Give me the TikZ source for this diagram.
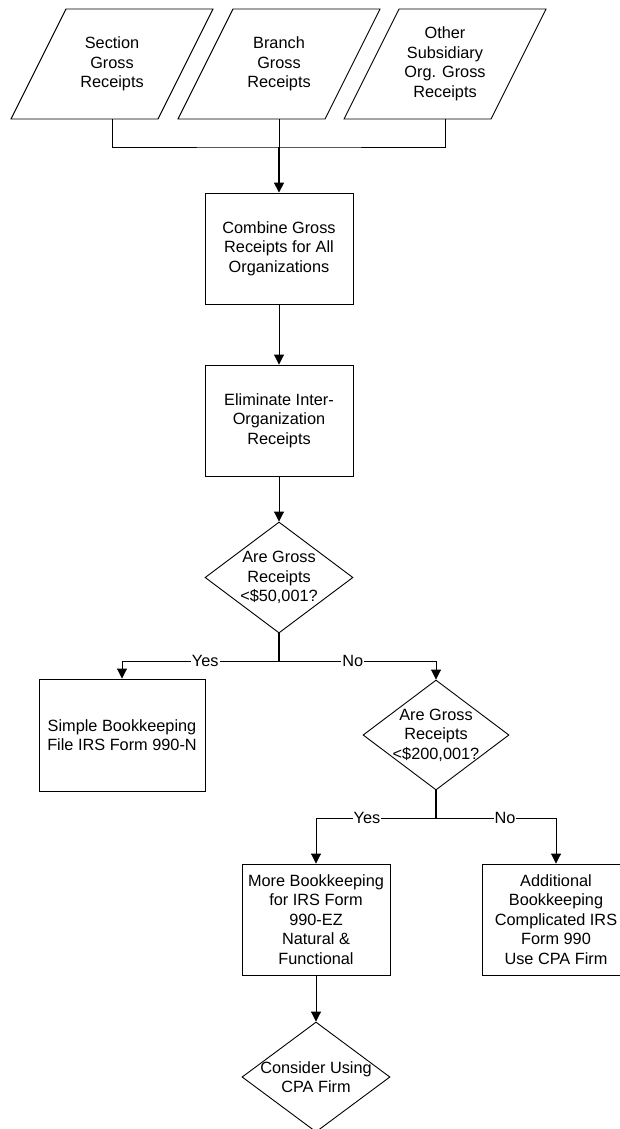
\documentclass[tikz,border=0pt]{standalone}
\usepackage{fontspec}
\setmainfont{Liberation Sans}
\usetikzlibrary{shapes.geometric,arrows.meta}
\tikzset{
  txt/.style={font=\fontsize{16.3}{19.5}\selectfont, align=center, inner sep=0pt},
  proc/.style={txt, draw, rectangle, minimum width=148pt, minimum height=111pt},
  dec/.style={draw, diamond, minimum width=148pt, minimum height=111pt, inner sep=0pt},
  io/.style={txt, minimum width=146pt, minimum height=110pt},
  arr/.style={-{Triangle[width=10pt,length=10pt]}},
  lab/.style={txt, fill=white, inner xsep=1pt, inner ysep=1pt},
}
\begin{document}
\begin{tikzpicture}[x=1pt,y=-1pt,line width=0.9pt]
\useasboundingbox (0,0) rectangle (620,1129);
\clip (0,0) rectangle (620,1129);
% input parallelograms
\node[io] (p1) at (112,64) {Section\\Gross\\Receipts};
\node[io] (p2) at (279,64) {Branch\\Gross\\Receipts};
\node[io] (p3) at (445,64) {Other\\Subsidiary\\Org. Gross\\Receipts};
\foreach \p in {p1,p2,p3}{
  \draw (\p.center) ++(-101,55) -- ++(147,0) -- ++(55,-110) -- ++(-147,0) -- cycle;
}
\coordinate (j) at (279,147);
\draw (p1.south) |- (j) -| (p3.south);
\draw (p2.south) -- (j);
% main column
\node[proc] (comb) at (279,248.5) {Combine Gross\\Receipts for All\\Organizations};
\node[proc] (elim) at (279,420.5) {Eliminate Inter-\\Organization\\Receipts};
\node[dec, label={[txt]center:Are Gross\\Receipts\\<\$50,001?}] (d1) at (279,577.5) {};
\draw[arr, line width=1.6pt] (j) -- (comb.north);
\draw[arr] (comb.south) -- (elim.north);
\draw[arr] (elim.south) -- (d1.north);
% first branch
\node[proc, minimum width=166pt, minimum height=112pt] (simple) at (122,735) {Simple Bookkeeping\\File IRS Form 990-N};
\node[dec, minimum width=146pt, minimum height=110pt, label={[txt]center:Are Gross\\Receipts\\<\$200,001?}] (d2) at (436,735) {};
\draw[line width=1.3pt] (d1.south) -- ++(0,28) coordinate (b1);
\draw[arr] (b1) -| (simple.north) node[lab, pos=0.235] {Yes};
\draw[arr] (b1) -| (d2.north) node[lab, pos=0.235] {No};
% second branch
\node[proc] (more) at (316,919.5) {More Bookkeeping\\for IRS Form\\990-EZ\\Natural \&\\Functional};
\node[proc] (add) at (556,919.5) {Additional\\Bookkeeping\\Complicated IRS\\Form 990\\Use CPA Firm};
\draw[line width=1.3pt] (d2.south) -- ++(0,28) coordinate (b2);
\draw[arr] (b2) -| (more.north) node[lab, pos=0.2875] {Yes};
\draw[arr] (b2) -| (add.north) node[lab, pos=0.2875] {No};
% final
\node[dec, minimum height=110pt, label={[txt]center:Consider Using\\CPA Firm}] (d3) at (316,1077) {};
\draw[arr] (more.south) -- (d3.north);
\end{tikzpicture}
\end{document}
